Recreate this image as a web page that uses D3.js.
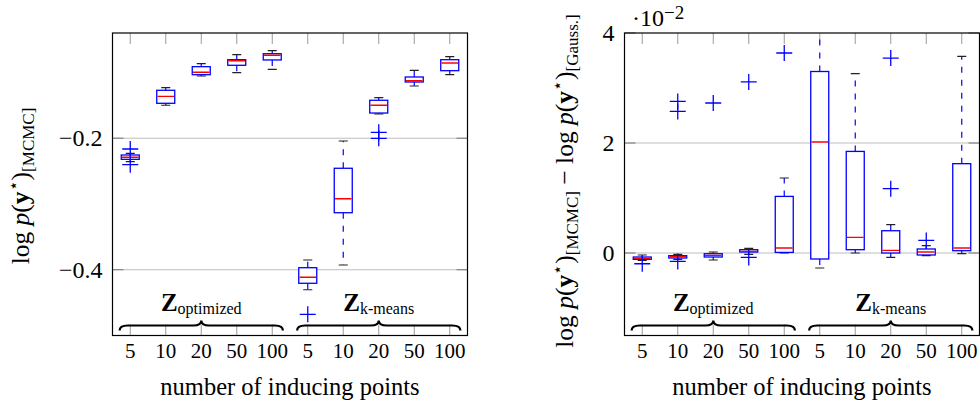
<!DOCTYPE html>
<html>
<head>
<meta charset="utf-8">
<script src="https://cdn.jsdelivr.net/npm/d3@7"></script>
<style>
    html, body { margin: 0; padding: 0; background: #fff; }
    svg { display: block; }
</style>
</head>
<body>
<svg id="chart" width="980" height="406" font-family="'Liberation Serif', 'DejaVu Serif', serif"></svg>
<script>

// Categories (number of inducing points, two groups of five)
const tickLabels = ['5', '10', '20', '50', '100', '5', '10', '20', '50', '100'];
const groupLabels = ['optimized', 'k-means'];

// Left panel: log p(y*) [MCMC]
const leftLow = [-0.2357, -0.1499, -0.1054, -0.1004, -0.0952, -0.4304, -0.3928, -0.1632, -0.1206, -0.1034];
const leftQ1 = [-0.2321, -0.1469, -0.1034, -0.0891, -0.0810, -0.4206, -0.3133, -0.1617, -0.1145, -0.0973];
const leftMedian = [-0.2290, -0.1363, -0.0997, -0.0821, -0.0739, -0.4115, -0.2920, -0.1499, -0.1125, -0.0856];
const leftQ3 = [-0.2255, -0.1271, -0.0912, -0.0806, -0.0715, -0.3969, -0.2457, -0.1423, -0.1069, -0.0806];
const leftHigh = [-0.2229, -0.1232, -0.0867, -0.0730, -0.0669, -0.3852, -0.2042, -0.1384, -0.0967, -0.0760];
const leftOutliers = [[-0.2164, -0.2403], [], [], [], [], [-0.4678], [], [-0.1910, -0.2001], [], []];
const leftYTicks = [-0.4, -0.2];
const leftYTickLabels = ['\u22120.4', '\u22120.2'];

// Right panel: difference MCMC - Gauss. (units of 10^-2)
const rightLow = [-0.135, -0.116, -0.127, -0.025, 0.0, -0.273, 0.0, -0.080, -0.049, -0.013];
const rightQ1 = [-0.116, -0.091, -0.073, 0.018, 0.011, -0.109, 0.060, 0.0, -0.036, 0.042];
const rightMedian = [-0.098, -0.067, -0.044, 0.030, 0.091, 2.018, 0.284, 0.047, 0.018, 0.091];
const rightQ3 = [-0.073, -0.049, -0.013, 0.060, 1.029, 3.300, 1.847, 0.405, 0.073, 1.624];
const rightHigh = [-0.036, -0.025, 0.018, 0.084, 1.364, 4.600, 3.260, 0.515, 0.133, 3.575];
const rightOutliers = [[-0.195], [-0.153, 2.575, 2.756], [2.727], [-0.080, 3.110], [3.636], [], [], [1.169, 3.545], [0.229], []];
const rightYTicks = [0, 2, 4];
const rightYTickLabels = ['0', '2', '4'];

// Configs
const configs = {
    top: 33,
    bottom: 335.5,
    boxHalf: 9,
    capHalf: 4.5,
    plusArm: 8,
    blue: '#0000ff',
    red: '#ff0000',
    grid: '#bdbdbd',
    tick: '#9a9a9a',
    font: 21,
    yTickFont: 24,
    titleFont: 24.5,
    labelFont: 25.5,
    family: 'Liberation Serif'
};

const svg = d3.select('#chart');

/**
 * Write a small math-like label made of styled pieces
 */
function mathText(sel, parts) {
    let shift = 0;
    parts.forEach(p => {
        const dy = (p.shift || 0) - shift;
        shift = p.shift || 0;
        const t = sel.append('tspan').text(p.t).attr('dy', dy);
        if (p.size) t.attr('font-size', p.size);
        if (p.italic) t.attr('font-style', 'italic');
        if (p.bold) t.attr('font-weight', 'bold');
    });
}

function logPy(sub) {
    return [
        { t: 'log ' },
        { t: 'p', italic: true },
        { t: '(' },
        { t: 'y', bold: true },
        { t: '\u22c6', size: 17, shift: -10 },
        { t: ')' },
        { t: sub, size: 17, shift: 5 }
    ];
}

/**
 * Curly brace under a group of boxes
 */
function bracePath(x1, x2, y) {
    const m = (x1 + x2) / 2;
    const h = 8;
    return `M${x1},${y + 5} Q${x1},${y} ${x1 + h},${y} L${m - h},${y} Q${m},${y} ${m},${y - 5}`
        + ` Q${m},${y} ${m + h},${y} L${x2 - h},${y} Q${x2},${y} ${x2},${y + 5}`;
}

/**
 * Draw one box plot panel
 */
function drawPanel(cfg) {

    const g = svg.append('g');
    const x = d3.scaleLinear().domain([0.5, 10.5]).range([cfg.left, cfg.right]);
    const y = d3.scaleLinear().domain(cfg.domain).range([configs.bottom, configs.top]);
    const idx = d3.range(tickLabels.length);

    // Clip
    g.append('clipPath').attr('id', cfg.id + '-clip')
        .append('rect')
        .attr('x', cfg.left).attr('y', configs.top)
        .attr('width', cfg.right - cfg.left).attr('height', configs.bottom - configs.top);

    // Grid lines
    g.selectAll('.grid').data(cfg.grid).join('line')
        .attr('x1', cfg.left).attr('x2', cfg.right)
        .attr('y1', d => y(d)).attr('y2', d => y(d))
        .attr('stroke', configs.grid).attr('stroke-width', 1);

    // Y ticks (inward both sides)
    cfg.yTicks.forEach(v => {
        [[cfg.left, cfg.left + 11], [cfg.right - 11, cfg.right]].forEach(([a, b]) => {
            g.append('line').attr('x1', a).attr('x2', b).attr('y1', y(v)).attr('y2', y(v))
                .attr('stroke', '#777').attr('stroke-width', 1);
        });
    });

    // X ticks (inward top and bottom)
    idx.forEach(i => {
        [[configs.top, configs.top + 11], [configs.bottom - 11, configs.bottom]].forEach(([a, b]) => {
            g.append('line').attr('x1', x(i + 1)).attr('x2', x(i + 1)).attr('y1', a).attr('y2', b)
                .attr('stroke', configs.tick).attr('stroke-width', 1);
        });
    });

    // Boxes
    const boxes = g.append('g').attr('clip-path', `url(#${cfg.id}-clip)`);
    idx.forEach(i => {
        const cx = x(i + 1);

        // Whiskers
        [[cfg.q1[i], cfg.low[i]], [cfg.q3[i], cfg.high[i]]].forEach(([from, to]) => {
            boxes.append('line')
                .attr('x1', cx).attr('x2', cx).attr('y1', y(from)).attr('y2', y(to))
                .attr('stroke', configs.blue).attr('stroke-width', 1.2)
                .attr('stroke-dasharray', '6,7');
            boxes.append('line')
                .attr('x1', cx - configs.capHalf).attr('x2', cx + configs.capHalf)
                .attr('y1', y(to)).attr('y2', y(to))
                .attr('stroke', '#222').attr('stroke-width', 1.2);
        });

        // Box
        boxes.append('rect')
            .attr('x', cx - configs.boxHalf).attr('width', configs.boxHalf * 2)
            .attr('y', y(cfg.q3[i])).attr('height', Math.max(0.5, y(cfg.q1[i]) - y(cfg.q3[i])))
            .attr('fill', 'white').attr('stroke', configs.blue).attr('stroke-width', 1.3);

        // Median
        boxes.append('line')
            .attr('x1', cx - configs.boxHalf + 0.7).attr('x2', cx + configs.boxHalf - 0.7)
            .attr('y1', y(cfg.median[i])).attr('y2', y(cfg.median[i]))
            .attr('stroke', configs.red).attr('stroke-width', 1.4);

        // Outliers
        cfg.outliers[i].forEach(v => {
            const py = y(v);
            boxes.append('path')
                .attr('d', `M${cx - configs.plusArm},${py} H${cx + configs.plusArm} M${cx},${py - configs.plusArm} V${py + configs.plusArm}`)
                .attr('stroke', configs.blue).attr('stroke-width', 1.3).attr('fill', 'none');
        });
    });

    // Braces and group labels
    [[0.7, 5.3, 3], [5.7, 10.3, 8]].forEach(([a, b, m], k) => {
        g.append('path').attr('d', bracePath(x(a), x(b), 325.5))
            .attr('fill', 'none').attr('stroke', '#000').attr('stroke-width', 2.2);
        const t = g.append('text').attr('x', x(m)).attr('y', 311)
            .attr('font-family', configs.family)
            .attr('text-anchor', 'middle').attr('font-size', 25);
        t.append('tspan').text('Z').attr('font-weight', 'bold');
        t.append('tspan').text(groupLabels[k]).attr('font-size', 16).attr('dy', 3);
    });

    // Frame
    g.append('rect')
        .attr('x', cfg.left).attr('y', configs.top)
        .attr('width', cfg.right - cfg.left).attr('height', configs.bottom - configs.top)
        .attr('fill', 'none').attr('stroke', '#000').attr('stroke-width', 1.2);

    // Tick labels
    g.selectAll('.xl').data(tickLabels).join('text')
        .attr('x', (d, i) => x(i + 1)).attr('y', 358)
        .attr('font-family', configs.family)
        .attr('text-anchor', 'middle').attr('font-size', configs.font)
        .text(d => d);
    g.selectAll('.yl').data(cfg.yTicks).join('text')
        .attr('x', cfg.left - 10).attr('y', d => y(d) + 8)
        .attr('font-family', configs.family)
        .attr('text-anchor', 'end').attr('font-size', configs.yTickFont)
        .text((d, i) => cfg.yTickLabels[i]);

    // Axis title
    g.append('text')
        .attr('x', (cfg.left + cfg.right) / 2).attr('y', 395)
        .attr('font-family', configs.family)
        .attr('text-anchor', 'middle').attr('font-size', configs.titleFont)
        .text('number of inducing points');

    // Y label
    const yl = g.append('text')
        .attr('transform', `translate(${cfg.labelX},${cfg.labelY}) rotate(-90)`)
        .attr('font-family', configs.family)
        .attr('text-anchor', 'middle').attr('font-size', configs.labelFont);
    mathText(yl, cfg.labelParts);

    return { x, y };
}

drawPanel({
    id: 'left', left: 112.5, right: 467.5, domain: [-0.5, -0.04],
    low: leftLow, q1: leftQ1, median: leftMedian, q3: leftQ3, high: leftHigh, outliers: leftOutliers,
    grid: leftYTicks, yTicks: leftYTicks, yTickLabels: leftYTickLabels,
    labelX: 29, labelY: 186,
    labelParts: logPy('[MCMC]')
});

drawPanel({
    id: 'right', left: 624.5, right: 979.5, domain: [-1.5, 4],
    low: rightLow, q1: rightQ1, median: rightMedian, q3: rightQ3, high: rightHigh, outliers: rightOutliers,
    grid: [0, 2], yTicks: rightYTicks, yTickLabels: rightYTickLabels,
    labelX: 573, labelY: 181,
    labelParts: logPy('[MCMC]').concat([{ t: ' \u2212 ', shift: 0 }], logPy('[Gauss.]'))
});

// Scale factor label
const sf = svg.append('text').attr('x', 632).attr('y', 26)
    .attr('font-family', configs.family).attr('font-size', 24);
mathText(sf, [{ t: '\u00b710' }, { t: '\u22122', size: 19, shift: -7 }]);

</script>
</body>
</html>
